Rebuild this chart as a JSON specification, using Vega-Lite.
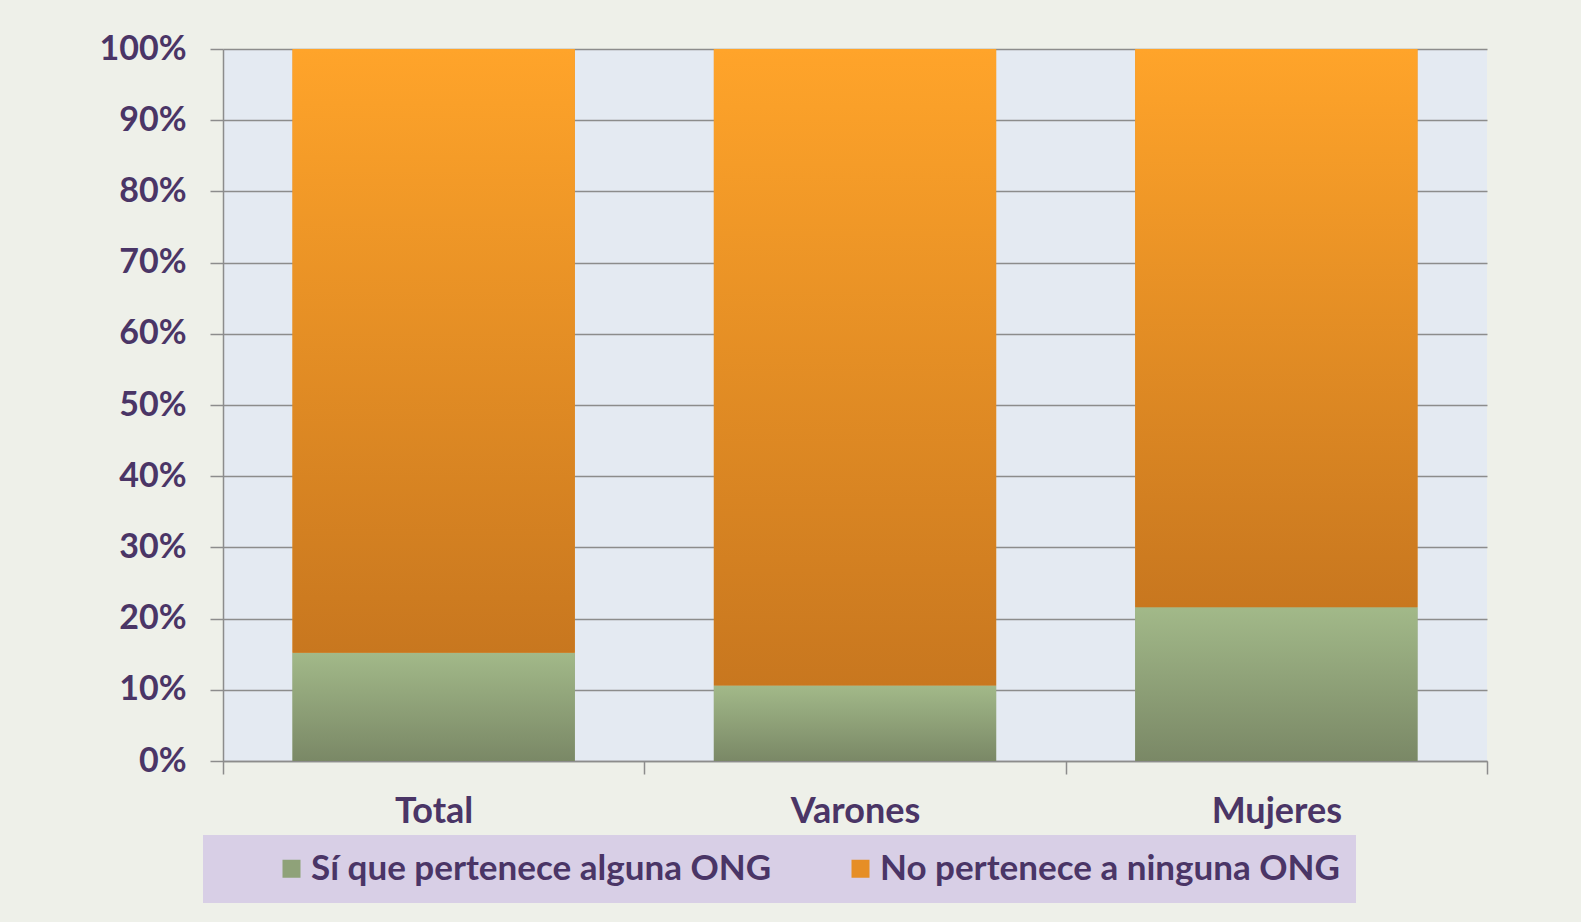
{
  "$schema": "https://vega.github.io/schema/vega-lite/v6.json",
  "autosize": {"type": "none"},
  "width": 1264,
  "height": 712,
  "padding": {"left": 223, "top": 49, "right": 94, "bottom": 161},
  "background": "#eef0e9",
  "config": {
    "view": {"fill": "#e4eaf2", "stroke": null},
    "font": "Lato"
  },
  "data": {
    "values": [
      {"grupo": "Total", "serie": "Sí que pertenece alguna ONG", "orden": 1, "valor": 0.152},
      {"grupo": "Total", "serie": "No pertenece a ninguna ONG", "orden": 2, "valor": 0.848},
      {"grupo": "Varones", "serie": "Sí que pertenece alguna ONG", "orden": 1, "valor": 0.106},
      {"grupo": "Varones", "serie": "No pertenece a ninguna ONG", "orden": 2, "valor": 0.894},
      {"grupo": "Mujeres", "serie": "Sí que pertenece alguna ONG", "orden": 1, "valor": 0.216},
      {"grupo": "Mujeres", "serie": "No pertenece a ninguna ONG", "orden": 2, "valor": 0.784}
    ]
  },
  "encoding": {
    "x": {
      "field": "grupo",
      "type": "nominal",
      "sort": ["Total", "Varones", "Mujeres"],
      "scale": {"paddingInner": 0, "paddingOuter": 0},
      "axis": {
        "title": null,
        "labelAngle": 0,
        "labelFont": "Lato",
        "labelFontWeight": "bold",
        "labelFontSize": 36,
        "labelColor": "#4a3566",
        "labelPadding": 20,
        "tickBand": "extent",
        "tickSize": 13,
        "tickColor": "#8c8c8c",
        "tickWidth": 1.5,
        "domainColor": "#8c8c8c",
        "domainWidth": 1.5,
        "grid": false
      }
    },
    "y": {
      "field": "valor",
      "type": "quantitative",
      "stack": "zero",
      "scale": {"domain": [0, 1], "nice": false},
      "axis": {
        "title": null,
        "format": ".0%",
        "values": [0, 0.1, 0.2, 0.3, 0.4, 0.5, 0.6, 0.7, 0.8, 0.9, 1],
        "labelFont": "Lato",
        "labelFontWeight": "bold",
        "labelFontSize": 34,
        "labelColor": "#4a3566",
        "labelPadding": 24,
        "tickSize": 13,
        "tickColor": "#8c8c8c",
        "tickWidth": 1.5,
        "grid": true,
        "gridColor": "#8c8c8c",
        "gridWidth": 1.5,
        "domainColor": "#8c8c8c",
        "domainWidth": 1.5
      }
    },
    "order": {"field": "orden", "type": "quantitative"}
  },
  "layer": [
    {
      "mark": {"type": "bar", "width": {"band": 0.67}},
      "encoding": {
        "color": {
          "field": "serie",
          "type": "nominal",
          "scale": {
            "domain": ["Sí que pertenece alguna ONG", "No pertenece a ninguna ONG"],
            "range": ["#8fa279", "#e68e26"]
          },
          "legend": {
            "title": null,
            "orient": "none",
            "legendX": -20,
            "legendY": 786,
            "direction": "horizontal",
            "columns": 2,
            "fillColor": "#d8cfe6",
            "padding": 16,
            "symbolOffset": 55,
            "symbolType": "square",
            "symbolSize": 324,
            "symbolStrokeWidth": 0,
            "symbolOpacity": 1,
            "labelFont": "Lato",
            "labelFontWeight": "bold",
            "labelFontSize": 35,
            "labelColor": "#4a3566",
            "labelOffset": 2,
            "columnPadding": 16,
            "labelLimit": 0
          }
        }
      }
    },
    {
      "mark": {"type": "bar", "width": {"band": 0.67}},
      "encoding": {
        "detail": {"field": "serie", "type": "nominal"},
        "fill": {
          "condition": {
            "test": "datum.orden === 1",
            "value": {"gradient": "linear", "x1": 0, "y1": 0, "x2": 0, "y2": 1, "stops": [{"offset": 0, "color": "#a2b989"}, {"offset": 1, "color": "#7a8866"}]}
          },
          "value": {"gradient": "linear", "x1": 0, "y1": 0, "x2": 0, "y2": 1, "stops": [{"offset": 0, "color": "#ffa42a"}, {"offset": 1, "color": "#c8771f"}]}
        }
      }
    }
  ]
}
